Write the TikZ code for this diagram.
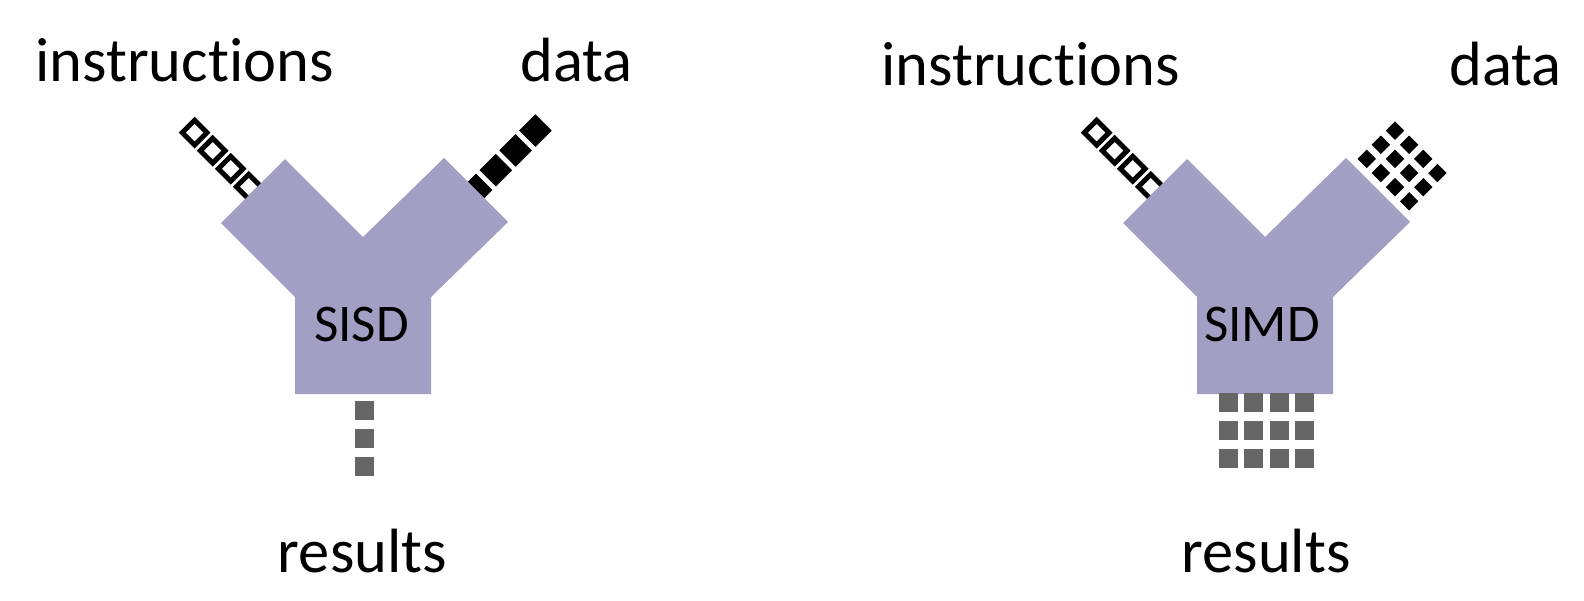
\documentclass[tikz,border=0pt]{standalone}
\usepackage{fontspec}
\setmainfont{Carlito}[Ligatures={NoCommon}]
\usetikzlibrary{calc}
\definecolor{ypurple}{RGB}{162,159,196}
\definecolor{rgray}{RGB}{102,102,102}
\begin{document}
\begin{tikzpicture}[x=1pt,y=-1pt,
  ybody/.style={fill=ypurple,draw=none},
  hollowsq/.style={draw=black,line width=5pt,fill=white,minimum size=17.5pt,inner sep=0pt,outer sep=0pt,rotate=45},
  filledsq/.style={fill=black,draw=none,minimum size=23pt,inner sep=0pt,outer sep=0pt,rotate=45},
  smallsq/.style={fill=black,draw=none,minimum size=13pt,inner sep=0pt,outer sep=0pt,rotate=45},
  resultsq/.style={fill=rgray,draw=none,minimum size=19pt,inner sep=0pt,outer sep=0pt},
  lbl/.style={font=\fontsize{62.5}{70}\selectfont,anchor=base,inner sep=0pt},
  ytext/.style={font=\fontsize{53}{60}\selectfont,anchor=base,inner sep=0pt}]
\useasboundingbox (0,0) rectangle (1584,600);
\fill[white] (0,0) rectangle (1584,600);

% ---------- left diagram (SISD) ----------
\foreach \d [count=\k] in {82.5,57,31.5,6}
  \node[hollowsq] (li\k) at ({253-\d*0.7071},{191-\d*0.7071}) {};
\foreach \d [count=\k] in {84,56,28,0}
  \node[filledsq] (ld\k) at ({476+\d*0.7071},{190-\d*0.7071}) {};
\path[ybody] (363,237) -- (285,159) -- (221,223) -- (295,297) -- (295,394)
  -- (431,394) -- (431,297) -- (508,222) -- (444,158) -- cycle;
\foreach \yy [count=\k] in {410,438,466}
  \node[resultsq] (lr\k) at (364,\yy) {};
\node[ytext] (sisd) at (361.5,341) {SISD};

% ---------- right diagram (SIMD) ----------
\foreach \d [count=\k] in {82.5,57,31.5,6}
  \node[hollowsq] (ri\k) at ({1155-\d*0.7071},{191-\d*0.7071}) {};
\foreach \p in {0,1,2,3}
  \foreach \r [count=\k] in {0.7,1.7,2.7}
    \node[smallsq] (rd\p\k) at ({1378+(\p-1.5)*14.14+\r*14.14},{190+(\p-1.5)*14.14-\r*14.14}) {};
\path[ybody] (1265,237) -- (1187,159) -- (1123,223) -- (1197,297) -- (1197,394)
  -- (1333,394) -- (1333,297) -- (1410,222) -- (1346,158) -- cycle;
\foreach \c in {0,1,2,3}
  \foreach \yy [count=\k] in {402.5,430.5,458.5}
    \node[resultsq] (rr\c\k) at ({1228+25.6*\c},\yy) {};
\node[ytext] (simd) at (1262,341.5) {SIMD};

% ---------- labels ----------
\node[lbl] (linstr) at (184.5,81) {instructions};
\node[lbl] (ldata) at (576.5,81) {data};
\node[lbl] (lres) at (362.5,572) {results};
\node[lbl] (rinstr) at (1030.5,85) {instructions};
\node[lbl] (rdata) at (1505.5,85) {data};
\node[lbl] (rres) at (1266,572) {results};
\end{tikzpicture}
\end{document}
